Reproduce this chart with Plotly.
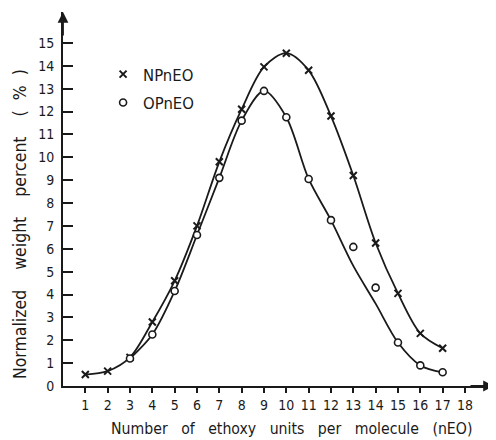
import plotly.graph_objects as go

# ---- data ----
np_x = [1, 2, 3, 4, 5, 6, 7, 8, 9, 10, 11, 12, 13, 14, 15, 16, 17]
np_y = [0.5, 0.65, 1.25, 2.8, 4.6, 7.0, 9.8, 12.1, 13.95, 14.55, 13.8, 11.8, 9.2, 6.25, 4.05, 2.3, 1.65]

op_x = [3, 4, 5, 6, 7, 8, 9, 10, 11, 12, 13, 14, 15, 16, 17]
op_y = [1.2, 2.25, 4.15, 6.6, 9.1, 11.6, 12.9, 11.75, 9.05, 7.25, 6.08, 4.3, 1.9, 0.9, 0.6]
# smoothed curve drawn for OPnEO (does not pass through the points at 13 and 14)
op_curve_y = [1.2, 2.25, 4.15, 6.6, 9.1, 11.6, 12.9, 11.75, 9.05, 7.25, 5.25, 3.6, 1.9, 0.9, 0.6]

x_ticks = list(range(1, 19))
y_ticks = list(range(0, 16))

FONT = "DejaVu Sans Condensed, Liberation Sans Narrow, DejaVu Sans, sans-serif"
INK = "#1a1a1a"

fig = go.Figure()

fig.add_trace(go.Scatter(x=np_x, y=np_y, mode="lines", showlegend=False,
                         line=dict(color=INK, width=1.8, shape="spline", smoothing=0.9)))
fig.add_trace(go.Scatter(x=op_x, y=op_curve_y, mode="lines", showlegend=False,
                         line=dict(color=INK, width=1.8, shape="spline", smoothing=0.9)))
fig.add_trace(go.Scatter(x=np_x, y=np_y, mode="markers", name="NPnEO", legendgroup="a",
                         marker=dict(symbol="x-thin", size=7, color=INK,
                                     line=dict(color=INK, width=2))))
fig.add_trace(go.Scatter(x=op_x, y=op_y, mode="markers", name="OPnEO", legendgroup="b",
                         marker=dict(symbol="circle", size=7, color="white",
                                     line=dict(color=INK, width=1.6))))

fig.update_layout(
    width=488, height=432,
    margin=dict(l=55, r=2, t=4, b=54),
    paper_bgcolor="white", plot_bgcolor="white",
    font=dict(family=FONT, size=14, color=INK),
    legend=dict(x=0.093, y=0.88, xanchor="left", yanchor="top",
                bgcolor="rgba(0,0,0,0)", font=dict(size=16.5),
                tracegroupgap=4, itemwidth=30),
    xaxis=dict(range=[0, 19.3], tickvals=x_ticks, ticktext=[str(v) for v in x_ticks],
               showgrid=False, zeroline=False, showline=True, linecolor=INK, linewidth=2,
               ticks="outside", ticklen=5, tickwidth=1.5, tickcolor=INK,
               tickfont=dict(size=14)),
    yaxis=dict(range=[0, 16.35], tickvals=y_ticks, ticktext=[str(v) for v in y_ticks],
               showgrid=False, zeroline=False, showline=True, linecolor=INK, linewidth=2,
               ticks="inside", ticklen=10, tickwidth=1.5, tickcolor=INK,
               ticklabelstandoff=4, tickfont=dict(size=14)),
    annotations=[
        dict(text="Number   of   ethoxy   units   per   molecule   (nEO)", xref="paper", yref="paper",
             x=0.531, y=0, yshift=-42, xanchor="center", yanchor="middle",
             showarrow=False, font=dict(size=15.7)),
        dict(text="Normalized    weight    percent    (  %  )", xref="paper", yref="paper",
             x=0, xshift=-43, y=0.433, textangle=-90, xanchor="center", yanchor="middle",
             showarrow=False, font=dict(size=17.5)),
        # axis arrows
        dict(x=0, y=1, xref="paper", yref="paper", ax=0, ay=25,
             showarrow=True, arrowhead=2, arrowsize=1.2, arrowwidth=1.8, arrowcolor=INK, text=""),
        dict(x=1, y=0, xref="paper", yref="paper", ax=-25, ay=0,
             showarrow=True, arrowhead=2, arrowsize=1.2, arrowwidth=1.8, arrowcolor=INK, text=""),
    ],
)

fig.write_html("out.html")
